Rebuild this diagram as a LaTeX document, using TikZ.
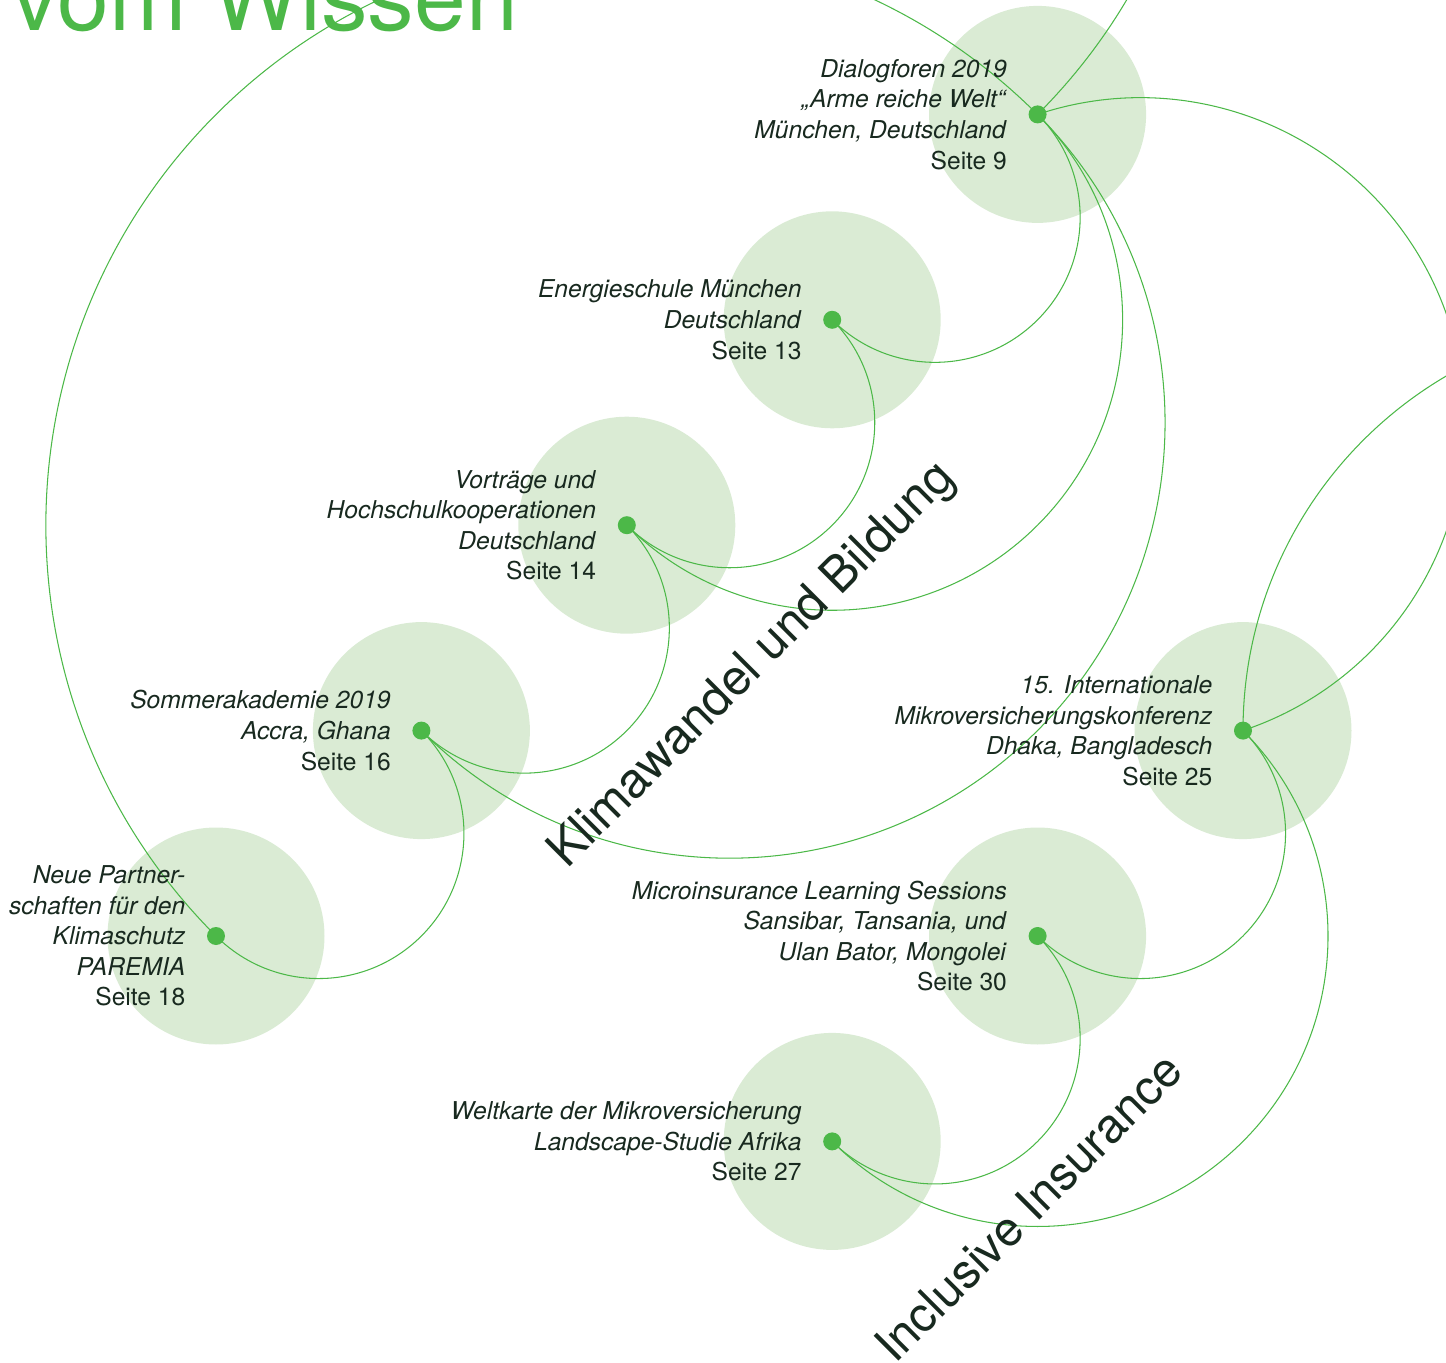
\documentclass[tikz,border=0pt]{standalone}
\usepackage{fontspec}
\setmainfont{TeX Gyre Heros}
\usetikzlibrary{positioning,calc}

\definecolor{dotgreen}{HTML}{4CB848}
\definecolor{discgreen}{HTML}{DAEBD4}
\definecolor{textdark}{HTML}{18291F}

\tikzset{
  dot/.style={circle,fill=dotgreen,minimum size=0.36cm,inner sep=0pt},
  disc/.style={fill=discgreen},
  lbl/.style={align=right,inner sep=0pt,text=textdark,
    font=\fontsize{14}{17.4}\selectfont},
  link/.style={draw=dotgreen,line width=0.6pt},
  semi/.style={to path={let \p1=(\tikztostart),\p2=(\tikztotarget),
      \n1={atan2(\y1-\y2,\x1-\x2)},\n2={0.5*veclen(\x2-\x1,\y2-\y1)}
      in arc[start angle=\n1,delta angle=#1,radius=\n2]}},
  theme/.style={rotate=45,text=textdark,font=\fontsize{28}{34}\selectfont},
}

\begin{document}
\begin{tikzpicture}[x=4.108cm,y=4.108cm]
  \useasboundingbox (-1.0516,-2.0740) rectangle (5.9883,4.5570);
  \clip (-1.0516,-2.0740) rectangle (5.9883,4.5570);

  % Raster der Projekte
  \coordinate (N) at (0,0);
  \coordinate (S) at (1,1);
  \coordinate (V) at (2,2);
  \coordinate (E) at (3,3);
  \coordinate (D) at (4,4);
  \coordinate (W) at (3,-1);
  \coordinate (M) at (4,0);
  \coordinate (K) at (5,1);
  % Punkte ausserhalb des Bildes
  \coordinate (far1) at (0,8);
  \coordinate (far2) at (9,1);

  \foreach \c in {N,S,V,E,D,W,M,K}
    \fill[disc] (\c) circle[radius=2.17cm];

  \node[anchor=base west,inner sep=0pt,text=dotgreen,
    font=\fontsize{53}{60}\selectfont] (title) at (-0.993,4.406) {vom Wissen};

  % Klimawandel
  \draw[link] (N) to[semi=180] (S);
  \draw[link] (S) to[semi=180] (V);
  \draw[link] (V) to[semi=180] (E);
  \draw[link] (E) to[semi=180] (D);
  \draw[link] (V) to[semi=180] (D);
  \draw[link] (S) to[semi=180] (D);
  \draw[link] (N) to[semi=-180] (D);
  \draw[link] (D) to[semi=180] (far1);
  \draw[link] (D) to[semi=-180] (K);

  % Insurance
  \draw[link] (M) to[semi=180] (K);
  \draw[link] (W) to[semi=180] (M);
  \draw[link] (W) to[semi=180] (K);
  \draw[link] (K) to[semi=-180] (far2);

  \foreach \c in {N,S,V,E,D,W,M,K}
    \node[dot] (\c-dot) at (\c) {};

  \node[lbl,left=0.42cm of D-dot] (D-lbl)
    {\textit{Dialogforen 2019}\\\textit{„Arme reiche Welt“}\\
     \textit{München, Deutschland}\\Seite 9};
  \node[lbl,left=0.42cm of E-dot] (E-lbl)
    {\textit{Energieschule München}\\\textit{Deutschland}\\Seite 13};
  \node[lbl,left=0.42cm of V-dot] (V-lbl)
    {\textit{Vorträge und}\\\textit{Hochschulkooperationen}\\
     \textit{Deutschland}\\Seite 14};
  \node[lbl,left=0.42cm of S-dot] (S-lbl)
    {\textit{Sommerakademie 2019}\\\textit{Accra, Ghana}\\Seite 16};
  \node[lbl,left=0.42cm of N-dot] (N-lbl)
    {\textit{Neue Partner-}\\\textit{schaften für den}\\
     \textit{Klimaschutz}\\\textit{PAREMIA}\\Seite 18};
  \node[lbl,left=0.42cm of K-dot] (K-lbl)
    {\textit{15. Internationale}\\\textit{Mikroversicherungskonferenz}\\
     \textit{Dhaka, Bangladesch}\\Seite 25};
  \node[lbl,left=0.42cm of M-dot] (M-lbl)
    {\textit{Microinsurance Learning Sessions}\\\textit{Sansibar, Tansania, und}\\
     \textit{Ulan Bator, Mongolei}\\Seite 30};
  \node[lbl,left=0.42cm of W-dot] (W-lbl)
    {\textit{Weltkarte der Mikroversicherung}\\\textit{Landscape-Studie Afrika}\\
     Seite 27};

  \node[theme] (klima) at (2.614,1.314) {Klimawandel und Bildung};
  \node[theme,font=\fontsize{27.4}{33}\selectfont] (insur) at (3.955,-1.32)
    {Inclusive Insurance};
\end{tikzpicture}
\end{document}
